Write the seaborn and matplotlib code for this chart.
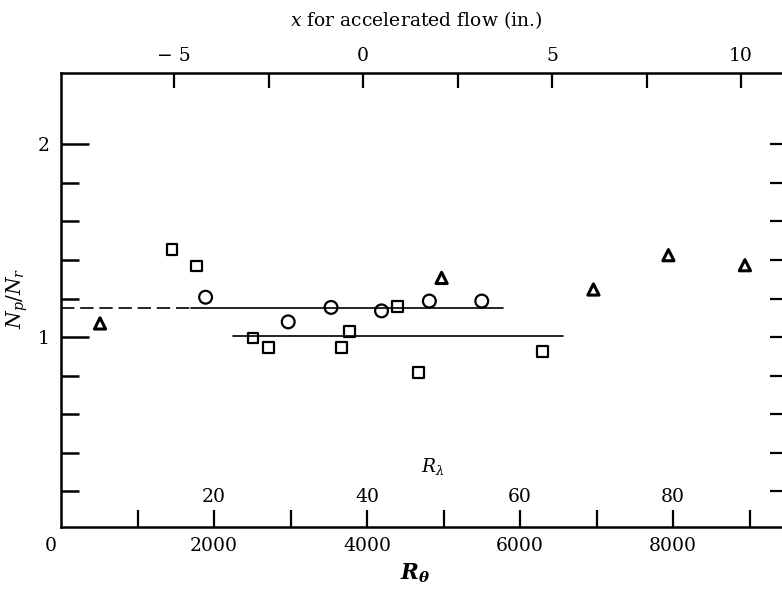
import numpy as np
import pandas as pd
import matplotlib
matplotlib.use("Agg")
import matplotlib.pyplot as plt
import matplotlib.transforms as mtransforms
import seaborn as sns

# ---- data ----
sq_R = [1450, 1770, 2510, 2710, 3670, 3770, 4400, 4670, 6290]
sq_N = [1.456, 1.369, 0.996, 0.945, 0.945, 1.031, 1.157, 0.817, 0.927]
ci_R = [1890, 2970, 3530, 4190, 4815, 5500]
ci_N = [1.207, 1.079, 1.154, 1.136, 1.187, 1.187]
tr_R = [510, 4975, 6960, 7940, 8940]
tr_N = [1.071, 1.307, 1.247, 1.425, 1.373]

upper_dashed_R = [0, 1700]
upper_solid_R = [1700, 5780]
upper_N = 1.15
lower_R = [2250, 6560]
lower_N = 1.005

x_major = [0, 2000, 4000, 6000, 8000]
x_minor = [1000, 3000, 5000, 7000, 9000]
y_major = [1, 2]
y_minor = [0.2, 0.4, 0.6, 0.8, 1.2, 1.4, 1.6, 1.8]
top_major = [-5, 0, 5, 10]
top_labels = ["\u2212 5", "0", "5", "10"]
top_minor = [-2.5, 2.5, 7.5]
rlam_ticks = [20, 40, 60, 80]

sns.set_style("white")
plt.rcParams["font.family"] = ["DejaVu Serif"]
plt.rcParams["mathtext.fontset"] = "custom"
plt.rcParams["mathtext.it"] = "DejaVu Serif:italic"
plt.rcParams["mathtext.rm"] = "DejaVu Serif"
plt.rcParams["mathtext.bf"] = "DejaVu Serif:italic:bold"
plt.rcParams["text.color"] = "black"
plt.rcParams["axes.labelcolor"] = "black"
plt.rcParams["xtick.color"] = "black"
plt.rcParams["ytick.color"] = "black"

FS = 13.5
fig = plt.figure(figsize=(7.82, 5.93), dpi=100)
W, H = 782, 593
L, R_, B, T = 61, 782, 527, 73
ax = fig.add_axes([L / W, 1 - B / H, (R_ - L) / W, (B - T) / H])

ax.set_xlim(0, (R_ - L) / 0.0765)
ax.set_ylim(0.015, 2.37)

# fit lines
ax.plot(upper_dashed_R, [upper_N] * 2, color="black", lw=1.2, dashes=(8, 3.5))
sns.lineplot(x=upper_solid_R, y=[upper_N] * 2, color="black", lw=1.2, ax=ax)
sns.lineplot(x=lower_R, y=[lower_N] * 2, color="black", lw=1.2, ax=ax)

# points
for xs, ys, m, s in [(sq_R, sq_N, "s", 60), (ci_R, ci_N, "o", 85), (tr_R, tr_N, "^", 65)]:
    sns.scatterplot(x=xs, y=ys, marker=m, s=s, ax=ax, zorder=3,
                    edgecolor="black", linewidth=2.2 if m == "^" else 1.6)
    ax.collections[-1].set_facecolor("none")
    ax.collections[-1].set_edgecolor("black")

# spines
for sp in ["left", "bottom", "top"]:
    ax.spines[sp].set_linewidth(1.8)
    ax.spines[sp].set_color("black")
ax.spines["right"].set_visible(False)

# bottom axis
ax.set_xticks(x_major)
ax.set_xticklabels([str(v) for v in x_major])
ax.set_xticks(x_minor, minor=True)
ax.tick_params(axis="x", which="both", direction="in", length=12, width=1.6,
               labelsize=FS, pad=7, top=False, bottom=True, colors="black")
xticks = ax.xaxis.get_major_ticks()
xticks[0].tick1line.set_visible(False)
for lab in ax.get_xticklabels():
    if lab.get_text() == "0":
        lab.set_ha("right")
        lab.set_transform(lab.get_transform() +
                          mtransforms.ScaledTranslation(-4 / 100, 0, fig.dpi_scale_trans))

# left axis
ax.set_yticks(y_major)
ax.set_yticklabels([str(v) for v in y_major])
ax.set_yticks(y_minor, minor=True)
ax.tick_params(axis="y", which="major", direction="in", length=20, width=1.8,
               labelsize=FS, pad=8, right=False, left=True, colors="black")
ax.tick_params(axis="y", which="minor", direction="in", length=13, width=1.8,
               right=False, left=True, colors="black")

# right ticks
secy = ax.secondary_yaxis("right")
secy.set_yticks(y_minor + y_major)
secy.set_yticklabels([])
secy.tick_params(direction="in", length=9, width=1.6, right=True, colors="black")
secy.spines["right"].set_visible(False)

# top axis
secx = ax.secondary_xaxis("top", functions=(lambda r: (r - 3950) / 494.0,
                                            lambda x: x * 494.0 + 3950))
secx.set_xticks(top_major)
secx.set_xticklabels(top_labels)
secx.set_xticks(top_minor, minor=True)
secx.tick_params(which="both", direction="in", length=11, width=1.6,
                 labelsize=FS, pad=6, top=True, colors="black")
secx.spines["top"].set_visible(False)
ax.text(0.492, 1.117, r"$x$ for accelerated flow (in.)", transform=ax.transAxes,
        ha="center", va="center", fontsize=FS)

# R_lambda labels inside the plot
for lam in rlam_ticks:
    ax.text(lam * 100, 0.066, str(lam), transform=ax.get_xaxis_transform(),
            ha="center", va="center", fontsize=FS)
ax.text(0.516, 0.134, r"$R_\lambda$", transform=ax.transAxes,
        ha="center", va="center", fontsize=FS)

ax.set_xlabel(r"$\mathbf{R_\theta}$", fontsize=FS + 2)
ax.xaxis.set_label_coords(0.491, -0.101)
ax.xaxis.label.set_va("center")
ax.set_ylabel(r"$N_p/N_r$", fontsize=FS + 1)
ax.yaxis.set_label_coords(-0.061, 0.504)
ax.yaxis.label.set_va("center")

fig.savefig("out.png", dpi=100)
